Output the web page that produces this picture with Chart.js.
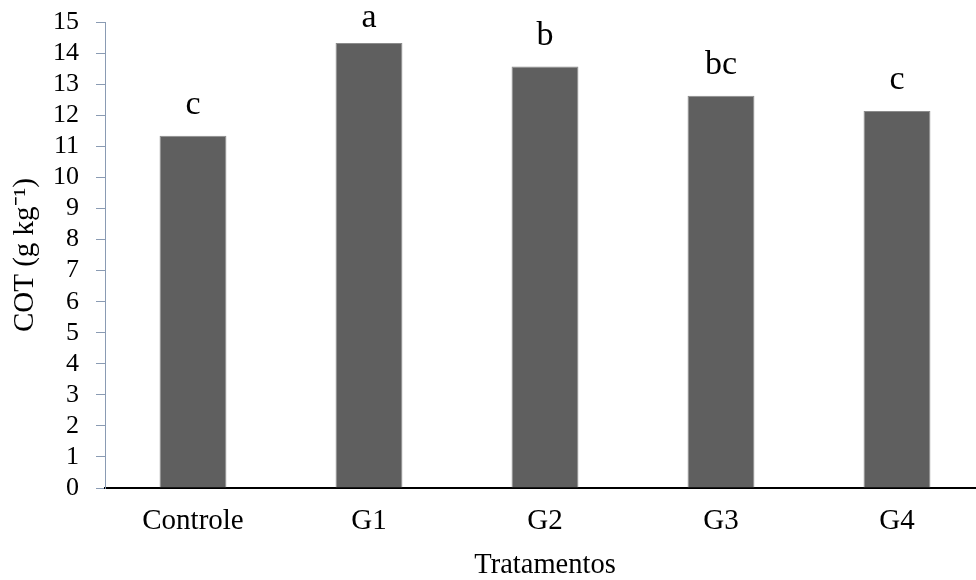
<!DOCTYPE html>
<html>
<head>
<meta charset="utf-8">
<script src="https://cdn.jsdelivr.net/npm/chart.js@4"></script>
<style>
  html, body { margin: 0; padding: 0; background: #fff; overflow: hidden; }
  #wrap { width: 990px; height: 580px; }
</style>
</head>
<body>
<div id="wrap"><canvas id="chart" width="990" height="580"></canvas></div>
<script>
const categories = ['Controle', 'G1', 'G2', 'G3', 'G4']
const cotValues = [11.34, 14.33, 13.57, 12.63, 12.14]
const letters = ['c', 'a', 'b', 'bc', 'c']
const yTicks = [0, 1, 2, 3, 4, 5, 6, 7, 8, 9, 10, 11, 12, 13, 14, 15]

const serif = '"Liberation Serif", "Times New Roman", serif'
const axisBlue = '#8a9bb3'

// significance letters above each bar, kept inside the top of the canvas
const letterPlugin = {
  id: 'letters',
  afterDatasetsDraw(chart) {
    const { ctx, chartArea } = chart
    const meta = chart.getDatasetMeta(0)
    ctx.save()
    ctx.fillStyle = '#000'
    ctx.font = `34px ${serif}`
    ctx.textAlign = 'center'
    ctx.textBaseline = 'alphabetic'
    meta.data.forEach((bar, i) => {
      const y = Math.max(bar.y - 22, chartArea.top + 5)
      ctx.fillText(letters[i], bar.x, y)
    })
    ctx.restore()
  },
}

const ctx = document.getElementById('chart').getContext('2d')

new Chart(ctx, {
  type: 'bar',
  data: {
    labels: categories,
    datasets: [
      {
        data: cotValues,
        backgroundColor: '#5f5f5f',
        borderColor: '#8c8c8c',
        borderWidth: 1,
        barPercentage: 0.38,
        categoryPercentage: 1,
      },
    ],
  },
  options: {
    responsive: false,
    animation: false,
    layout: {
      padding: { top: 16, right: 5, left: 0, bottom: 0 },
    },
    plugins: {
      legend: { display: false },
      tooltip: { enabled: false },
    },
    scales: {
      x: {
        grid: { display: false, drawTicks: false },
        border: { display: true, color: '#000', width: 2 },
        ticks: {
          color: '#000',
          padding: 16,
          font: { family: serif, size: 29 },
        },
        title: {
          display: true,
          text: 'Tratamentos',
          color: '#000',
          padding: { top: 0, bottom: 0 },
          font: { family: serif, size: 28.5, lineHeight: 1 },
        },
        afterFit(scale) {
          scale.height = 92
        },
      },
      y: {
        min: 0,
        max: 15,
        afterBuildTicks(scale) {
          scale.ticks = yTicks.map((v) => ({ value: v }))
        },
        grid: {
          drawOnChartArea: false,
          drawTicks: true,
          tickLength: 9,
          color: axisBlue,
        },
        border: { display: true, color: axisBlue, width: 1 },
        ticks: {
          color: '#000',
          padding: 17,
          autoSkip: false,
          font: { family: serif, size: 26, lineHeight: 0.4 },
        },
        title: {
          display: true,
          text: 'COT (g kg⁻¹)',
          color: '#000',
          padding: { top: 11, bottom: 0 },
          font: { family: serif, size: 29, lineHeight: 1 },
        },
        afterFit(scale) {
          scale.width = 105
        },
      },
    },
  },
  plugins: [letterPlugin],
})
</script>
</body>
</html>
